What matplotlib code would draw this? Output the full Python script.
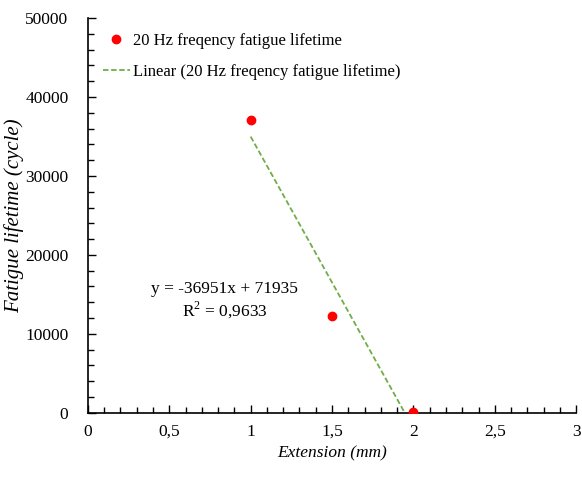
import matplotlib

matplotlib.use("Agg")
import matplotlib.pyplot as plt
import numpy as np
from matplotlib.ticker import FuncFormatter, MultipleLocator

# Data
extension_mm = [1.0, 1.5, 2.0]
lifetime_cycles = [37100, 12270, 150]
series_label = "20 Hz freqency fatigue lifetime"
equation_text = "y = -36951x + 71935\nR$^2$ = 0,9633"

plt.rcParams["font.family"] = ["Liberation Serif", "DejaVu Serif"]
plt.rcParams["mathtext.fontset"] = "custom"
plt.rcParams["mathtext.rm"] = "Liberation Serif"

fig = plt.figure(figsize=(5.82, 4.8), dpi=100)
ax = fig.add_axes([0.151, 0.140, 0.839, 0.8225])

x = np.asarray(extension_mm)
y = np.asarray(lifetime_cycles)

ax.plot(x, y, "o", color="#ff0000", markersize=6, label=series_label, zorder=3)

# Linear trendline, clipped at zero like the spreadsheet version
slope, intercept = np.polyfit(x, y, 1)
x_zero = -intercept / slope
xt = np.array([x.min(), min(x.max(), x_zero)])
ax.plot(xt, slope * xt + intercept, linestyle=(0, (3, 1.5)), color="#70ad47",
        linewidth=1.3, label="Linear (" + series_label + ")", zorder=2)

ax.text(0.84, 14200, equation_text, ha="center", va="center", fontsize=12.5,
        linespacing=1.2)

ax.set_xlim(0, 3)
ax.set_ylim(0, 50000)
ax.xaxis.set_major_locator(MultipleLocator(0.5))
ax.xaxis.set_minor_locator(MultipleLocator(0.1))
ax.yaxis.set_major_locator(MultipleLocator(10000))
ax.yaxis.set_minor_locator(MultipleLocator(2000))
ax.xaxis.set_major_formatter(FuncFormatter(lambda v, p: f"{v:g}".replace(".", ",")))

for side in ("top", "right"):
    ax.spines[side].set_visible(False)
for side in ("left", "bottom"):
    ax.spines[side].set_linewidth(1.2)

ax.tick_params(which="both", direction="in", labelsize=12.5, width=1)
ax.tick_params(which="major", length=6, pad=8)
ax.tick_params(which="minor", length=4)
ax.tick_params(axis="y", which="major", pad=14)

ax.set_xlabel("Extension (mm)", fontsize=12.5, style="italic", labelpad=4)
ax.set_ylabel("Fatigue lifetime (cycle)", fontsize=15, style="italic")
ax.yaxis.set_label_coords(-0.131, 0.5)

ax.legend(loc="upper left", bbox_to_anchor=(0.0, 1.0), frameon=False,
          fontsize=12, handlelength=1.6, handletextpad=0.2, labelspacing=0.9)

fig.savefig("out.png", dpi=100)
